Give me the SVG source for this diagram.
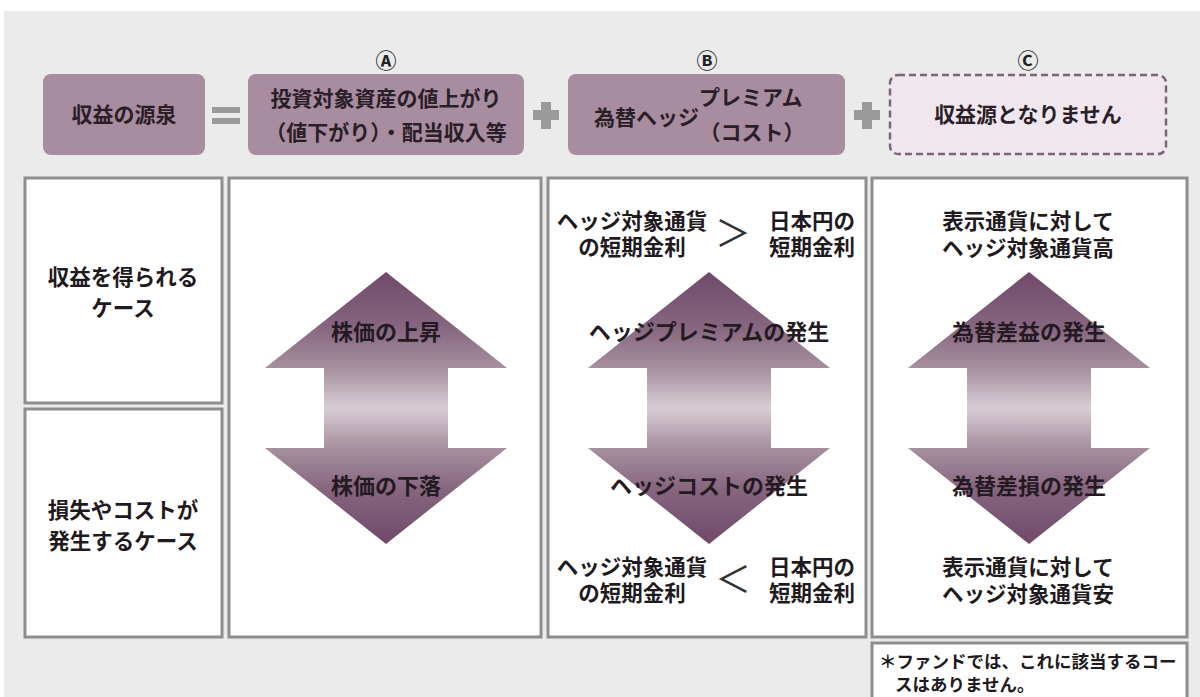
<svg xmlns="http://www.w3.org/2000/svg" width="1200" height="697" viewBox="0 0 1200 697">
<defs>
<style>
text{font-family:"Liberation Sans","Noto Sans CJK JP",sans-serif;font-weight:bold;fill:#1f1a1e;text-anchor:middle}
.hd{font-size:21px;fill:#2a1e27}
.bd{font-size:21.5px}
.ar{font-size:22px;fill:#241a22}
.lb{font-size:21px;fill:#222}
.fn{font-size:17.5px;text-anchor:start}
.hbox{fill:#a88ca0}
.cell{fill:#ffffff;stroke:#8e8e8e;stroke-width:3}
.op{fill:#9a9a9a}
.cmp{font-size:36px;font-weight:normal;fill:#333}
.arrow{fill:url(#ag)}
</style>
<linearGradient id="ag" gradientUnits="userSpaceOnUse" x1="0" y1="0" x2="0" y2="272">
<stop offset="0" stop-color="#6f4a69"/>
<stop offset="0.2" stop-color="#86657f"/>
<stop offset="0.36" stop-color="#a8929f"/>
<stop offset="0.5" stop-color="#d8cdd6"/>
<stop offset="0.64" stop-color="#a8929f"/>
<stop offset="0.8" stop-color="#86657f"/>
<stop offset="1" stop-color="#6f4a69"/>
</linearGradient>
<path id="dbl" d="M0,0 L121,96 L62,96 L62,176 L121,176 L0,272 L-121,176 L-62,176 L-62,96 L-121,96 Z"/>
</defs>
<rect x="0" y="0" width="1200" height="697" fill="#ffffff"/>
<rect x="4" y="11" width="1196" height="686" fill="#ebebeb"/>

<g id="labels">
<text class="lb" x="386" y="68">Ⓐ</text>
<text class="lb" x="707" y="68">Ⓑ</text>
<text class="lb" x="1028" y="68">Ⓒ</text>
</g>

<g id="node-source">
<rect class="hbox" x="43" y="74" width="162" height="81" rx="8"/>
<text class="hd" x="124" y="122">収益の源泉</text>
</g>
<g id="node-a-header">
<rect class="hbox" x="248" y="74" width="276" height="81" rx="8"/>
<text class="hd" x="386" y="106">投資対象資産の値上がり</text>
<text class="hd" x="386" y="140">（値下がり）・配当収入等</text>
</g>
<g id="node-b-header">
<rect class="hbox" x="568" y="74" width="277" height="81" rx="8"/>
<text class="hd" x="699" y="125" style="text-anchor:end">為替ヘッジ</text>
<text class="hd" x="699" y="105" style="text-anchor:start">プレミアム</text>
<text class="hd" x="752" y="140">（コスト）</text>
</g>
<g id="node-c-header">
<rect x="890" y="75" width="276" height="79" rx="8" fill="#efe6ee" stroke="#7e6479" stroke-width="2.5" stroke-dasharray="7 4"/>
<text class="hd" x="1028" y="122">収益源となりません</text>
</g>

<g id="operators">
<rect class="op" x="212" y="107" width="28" height="6"/>
<rect class="op" x="212" y="118" width="28" height="6"/>
<rect class="op" x="541" y="102" width="10" height="27"/>
<rect class="op" x="533" y="110" width="26" height="10"/>
<rect class="op" x="862" y="102" width="10" height="27"/>
<rect class="op" x="854" y="110" width="26" height="10"/>
</g>

<g id="node-gain-case">
<rect class="cell" x="25" y="178" width="197" height="225"/>
<text class="bd" x="123" y="285">収益を得られる</text>
<text class="bd" x="123" y="316">ケース</text>
</g>
<g id="node-loss-case">
<rect class="cell" x="25" y="409" width="197" height="228"/>
<text class="bd" x="123" y="518">損失やコストが</text>
<text class="bd" x="123" y="549">発生するケース</text>
</g>

<g id="node-col-a">
<rect class="cell" x="229" y="178" width="312" height="459"/>
</g>
<g id="node-col-b">
<rect class="cell" x="548" y="178" width="318" height="459"/>
<text class="bd" x="632" y="229">ヘッジ対象通貨</text>
<text class="bd" x="632" y="255">の短期金利</text>
<text class="cmp" x="733" y="247">＞</text>
<text class="bd" x="812" y="229">日本円の</text>
<text class="bd" x="812" y="255">短期金利</text>
<text class="bd" x="632" y="575">ヘッジ対象通貨</text>
<text class="bd" x="632" y="601">の短期金利</text>
<text class="cmp" x="733" y="593">＜</text>
<text class="bd" x="812" y="575">日本円の</text>
<text class="bd" x="812" y="601">短期金利</text>
</g>
<g id="node-col-c">
<rect class="cell" x="872" y="178" width="315" height="459"/>
<text class="bd" x="1028" y="229">表示通貨に対して</text>
<text class="bd" x="1028" y="256">ヘッジ対象通貨高</text>
<text class="bd" x="1028" y="575">表示通貨に対して</text>
<text class="bd" x="1028" y="602">ヘッジ対象通貨安</text>
</g>

<g id="connectors">
<use href="#dbl" class="arrow" x="386" y="272"/>
<use href="#dbl" class="arrow" x="709" y="272"/>
<use href="#dbl" class="arrow" x="1029" y="272"/>
<text class="ar" x="386" y="340">株価の上昇</text>
<text class="ar" x="386" y="494">株価の下落</text>
<text class="ar" x="709" y="340">ヘッジプレミアムの発生</text>
<text class="ar" x="709" y="494">ヘッジコストの発生</text>
<text class="ar" x="1029" y="340">為替差益の発生</text>
<text class="ar" x="1029" y="494">為替差損の発生</text>
</g>

<g id="node-footnote">
<rect class="cell" x="872" y="643" width="315" height="70"/>
<text class="fn" x="879" y="668">＊ファンドでは、これに該当するコー</text>
<text class="fn" x="895" y="691">スはありません。</text>
</g>
</svg>
